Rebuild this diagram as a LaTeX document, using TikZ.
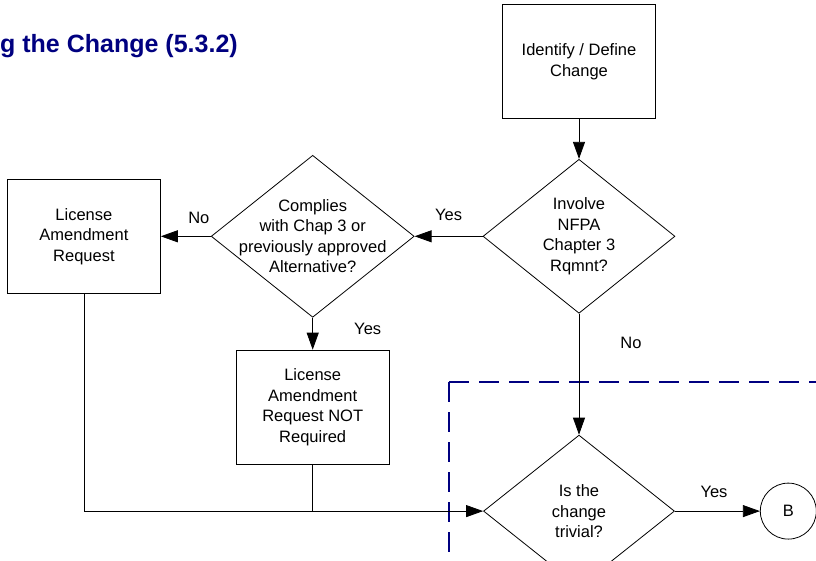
\documentclass[tikz,border=0pt]{standalone}
\usepackage{fontspec}
\setmainfont{Liberation Sans}
\usepackage{tikz}
\usetikzlibrary{positioning,shapes.geometric,arrows.meta}
\definecolor{navy}{RGB}{0,0,128}

\begin{document}
\begin{tikzpicture}[x=1pt,y=-1pt,
	txt/.style={font=\fontsize{16.5}{20.5}\selectfont,align=center},
	proc/.style={draw,rectangle,txt,minimum width=153pt,minimum height=114pt,line width=0.8pt},
	decision/.style={draw,diamond,inner sep=0pt,line width=0.8pt},
	conn/.style={draw,circle,txt,minimum size=56pt,inner sep=0pt,line width=0.8pt},
	link/.style={line width=0.8pt},
	flow/.style={link,-{Triangle[length=17pt,width=12pt]}},
	lbl/.style={txt,inner sep=0pt},
	region/.style={navy,line width=2.2pt,dash pattern=on 20pt off 10pt}]
	\useasboundingbox (0,0) rectangle (816,560);
	\clip (0,0) rectangle (816,560);
	%% 标题
	\node[anchor=base west,inner sep=0pt,text=navy,font=\fontsize{25}{30}\selectfont\bfseries] (title) at (0,52) {g the Change (5.3.2)};
	%% 虚线框
	\coordinate (corner) at (449,382);
	\draw[region] (corner) -- (840,382);
	\draw[region] (corner) -- (449,600);
	%% 右列
	\node[proc] (ident) at (579,61.5) {Identify / Define\\Change};
	\node[decision,minimum width=192pt,minimum height=154pt,below =40pt of ident] (nfpa) {};
	\node[lbl] at (nfpa) {Involve\\NFPA\\Chapter 3\\Rqmnt?};
	\node[decision,minimum width=191pt,minimum height=152pt,below =121pt of nfpa] (triv) {};
	\node[lbl] at (triv) {Is the\\change\\trivial?};
	\node[conn,right =85pt of triv] (B) {B};
	%% 中列
	\node[decision,minimum width=203pt,minimum height=162pt,left =68pt of nfpa] (comp) {};
	\node[lbl] at (comp) {Complies\\with Chap 3 or\\previously approved\\Alternative?};
	\node[proc,below =32pt of comp] (larnot) {License\\Amendment\\Request NOT\\Required};
	%% 左列
	\node[proc,left =50pt of comp] (lar) {License\\Amendment\\Request};
	% 连线
	\draw[flow] (ident) -- (nfpa);
	\draw[flow] (nfpa) -- node[lbl,pos=0.5,yshift=21pt] {Yes} (comp);
	\draw[flow] (comp) -- node[lbl,pos=0.24,yshift=18pt] {No} (lar);
	\draw[flow] (comp) -- node[lbl,pos=0.35,xshift=55pt] {Yes} (larnot);
	\draw[flow] (nfpa) -- node[lbl,pos=0.24,xshift=52pt] {No} (triv);
	\draw[flow] (triv) -- node[lbl,pos=0.46,yshift=19pt] {Yes} (B);
	\draw[flow] (lar.south) |- (triv.west);
	\draw[link] (larnot.south) -- (larnot.south |- triv.west);
\end{tikzpicture}
\end{document}
